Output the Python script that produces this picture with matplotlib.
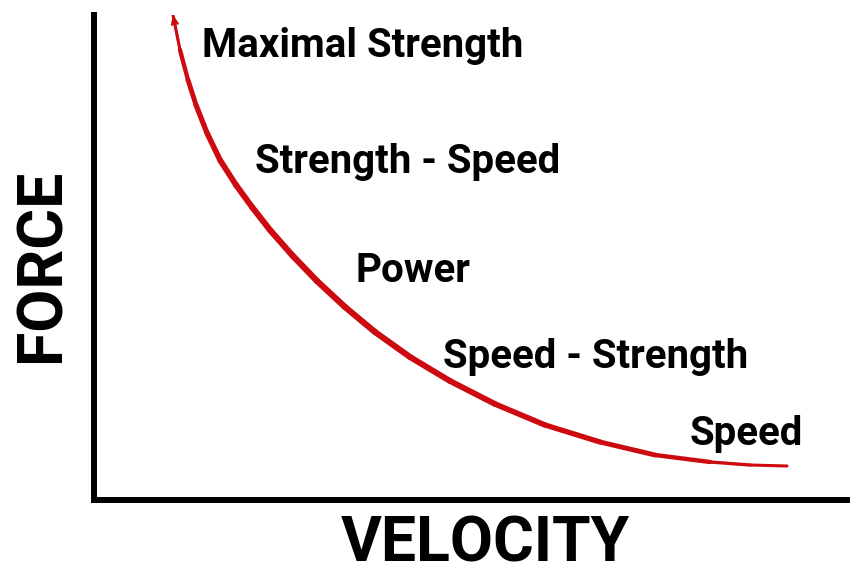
import numpy as np
import matplotlib
matplotlib.use("Agg")
import matplotlib.pyplot as plt
from matplotlib.collections import LineCollection

# Curve (velocity, force) in arbitrary units
velocity = [79, 86, 94, 102, 113, 126, 142, 158, 176, 198, 223, 251, 281, 316,
            356, 401, 451, 506, 561, 616, 656, 693]
force = [485, 450, 420, 395, 367, 340, 315, 293, 270, 245, 219, 193, 168, 143,
         119, 96, 75, 58, 45, 38, 35, 34]

zone_labels = ["Maximal Strength", "Strength - Speed", "Power",
               "Speed - Strength", "Speed"]
zone_x = [108, 161, 261, 349, 596]
zone_y = [443, 327, 218, 132, 55]

x_label = "VELOCITY"
y_label = "FORCE"

W, H = 850, 578
fig = plt.figure(figsize=(W / 100, H / 100), dpi=100)
left_px, bottom_px, top_px = 94, 500, 15
ax = fig.add_axes([left_px / W, (H - bottom_px) / H, 1 - left_px / W,
                   (bottom_px - top_px) / H])
ax.set_xlim(0, W - left_px)
ax.set_ylim(0, bottom_px - top_px)

for s in ["top", "right"]:
    ax.spines[s].set_visible(False)
for s in ["left", "bottom"]:
    ax.spines[s].set_linewidth(4.3)
    ax.spines[s].set_color("black")
    ax.spines[s].set_clip_on(False)
ax.set_xticks([])
ax.set_yticks([])

red = "#cc0a0f"
pts = np.column_stack([velocity, force])
segs = np.stack([pts[:-1], pts[1:]], axis=1)
n = len(segs)
t = np.linspace(0, 1, n)
widths = 2.2 + 2.3 * np.sin(np.pi * np.clip(t * 1.05, 0, 1)) ** 0.5
lc = LineCollection(segs, colors=red, linewidths=widths, capstyle="round",
                    joinstyle="round")
ax.add_collection(lc)

# small arrow barb at the top end
ax.annotate("", xy=(velocity[0], force[0]), xytext=(velocity[1], force[1]),
            arrowprops=dict(arrowstyle="->,head_length=0.45,head_width=0.2",
                            color=red, lw=1.8, shrinkA=0, shrinkB=0))

lab_font = ["Roboto", "DejaVu Sans"]
for lbl, x, y in zip(zone_labels, zone_x, zone_y):
    ax.text(x, y, lbl, fontsize=29, fontweight="bold", family=lab_font,
            ha="left", va="baseline", color="black")

ax_font = ["Roboto", "DejaVu Sans"]
fig.text(485 / W, 1 - 545 / H, x_label, fontsize=45, fontweight="bold",
         family=ax_font, ha="center", va="center")
fig.text(43 / W, 1 - 265 / H, y_label, fontsize=45, fontweight="bold",
         family=ax_font, ha="center", va="center", rotation=90)

fig.savefig("out.png", dpi=100, facecolor="white")
